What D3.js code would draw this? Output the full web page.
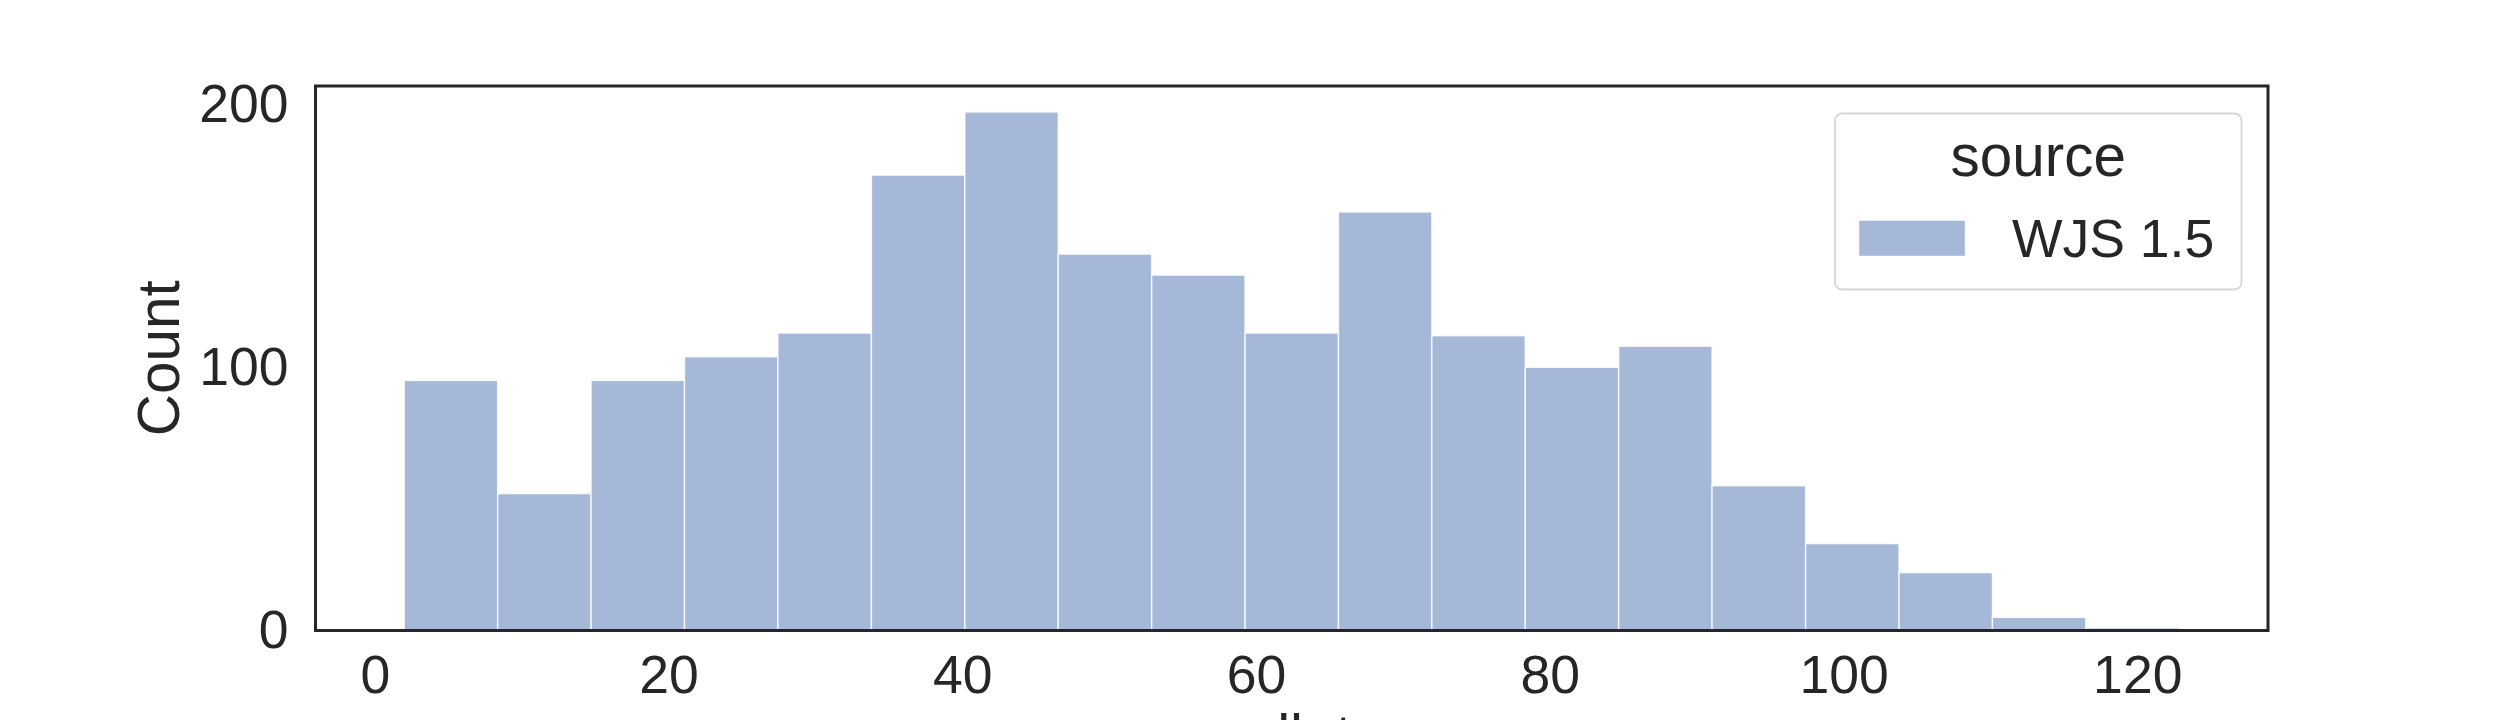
<!DOCTYPE html>
<html>
<head>
<meta charset="utf-8">
<script src="https://cdn.jsdelivr.net/npm/d3@7"></script>
<style>
	body { margin: 0; background: #fff; }
	svg { display: block; font-family: "Liberation Sans", Arial, sans-serif; }
</style>
</head>
<body>
<svg id="chart" width="2520" height="720"></svg>
<script>
// histogram bins (edges) and counts per bin
const binEdges = [2.00, 8.36, 14.72, 21.08, 27.44, 33.81, 40.17, 46.53, 52.89, 59.25,
	65.61, 71.97, 78.33, 84.69, 91.05, 97.42, 103.78, 110.14, 116.50, 122.86]
const counts = [95, 52, 95, 104, 113, 173, 197, 143, 135, 113, 159, 112, 100, 108, 55, 33, 22, 5, 1]
const xTicks = [0, 20, 40, 60, 80, 100, 120]
const yTicks = [0, 100, 200]
const legendTitle = "source"
const seriesName = "WJS 1.5"
const xLabel = "wallets"
const yLabel = "Count"

var svg = d3.select("#chart"),
	axLeft = 315.5, axRight = 2268, axTop = 86, axBottom = 630.5,
	tickFont = 53.5, labelFont = 58.4,
	ink = "#262626",
	barColor = "rgb(76,114,176)"

var bins = counts.map(function(c, i) { return {x0: binEdges[i], x1: binEdges[i + 1], n: c} })

// seaborn-like 5% margins on x, 5% headroom on y
var lo = d3.min(binEdges), hi = d3.max(binEdges), pad = (hi - lo) * 0.05
var xScale = d3.scaleLinear().domain([lo - pad, hi + pad]).range([axLeft, axRight])
var yScale = d3.scaleLinear().domain([0, d3.max(counts) * 1.05]).range([axBottom, axTop])

svg.append("g")
	.selectAll("rect")
	.data(bins)
	.enter().append("rect")
	.attr("x", function(d) { return xScale(d.x0) })
	.attr("y", function(d) { return yScale(d.n) })
	.attr("width", function(d) { return xScale(d.x1) - xScale(d.x0) })
	.attr("height", function(d) { return yScale(0) - yScale(d.n) })
	.attr("fill", barColor)
	.attr("fill-opacity", 0.5)
	.attr("stroke", "#fff")
	.attr("stroke-opacity", 0.85)
	.attr("stroke-width", 1.4)

// x axis (no tick marks, no domain line)
var gx = svg.append("g")
	.attr("transform", "translate(0," + axBottom + ")")
	.call(d3.axisBottom(xScale).tickValues(xTicks).tickSize(0).tickPadding(24.5))
gx.select(".domain").remove()
gx.selectAll("text").attr("font-size", tickFont).attr("fill", ink)
gx.attr("font-family", null).attr("font-size", null)

var gy = svg.append("g")
	.attr("transform", "translate(" + axLeft + ",0)")
	.call(d3.axisLeft(yScale).tickValues(yTicks).tickSize(0).tickPadding(27))
gy.select(".domain").remove()
gy.selectAll("text").attr("font-size", tickFont).attr("fill", ink)
gy.attr("font-family", null).attr("font-size", null)

// spines
svg.append("rect")
	.attr("x", axLeft)
	.attr("y", axTop)
	.attr("width", axRight - axLeft)
	.attr("height", axBottom - axTop)
	.attr("fill", "none")
	.attr("stroke", ink)
	.attr("stroke-width", 3)

svg.append("text")
	.attr("transform", "translate(179," + ((axTop + axBottom) / 2) + ") rotate(-90)")
	.attr("text-anchor", "middle")
	.attr("font-size", labelFont)
	.attr("fill", ink)
	.text(yLabel)

svg.append("text")
	.attr("x", (axLeft + axRight) / 2)
	.attr("y", 756)
	.attr("text-anchor", "middle")
	.attr("font-size", labelFont)
	.attr("fill", ink)
	.text(xLabel)

// legend
var lg = svg.append("g")
lg.append("rect")
	.attr("x", 1835)
	.attr("y", 113.5)
	.attr("width", 406.5)
	.attr("height", 176)
	.attr("rx", 7)
	.attr("fill", "#fff")
	.attr("fill-opacity", 0.8)
	.attr("stroke", "#d6d6d6")
	.attr("stroke-width", 1.8)

lg.append("text")
	.attr("x", 1835 + 406.5 / 2)
	.attr("y", 176)
	.attr("text-anchor", "middle")
	.attr("font-size", labelFont)
	.attr("fill", ink)
	.text(legendTitle)

lg.append("rect")
	.attr("x", 1858.5)
	.attr("y", 220)
	.attr("width", 107)
	.attr("height", 36.5)
	.attr("fill", barColor)
	.attr("fill-opacity", 0.5)
	.attr("stroke", "#fff")
	.attr("stroke-width", 1.4)

lg.append("text")
	.attr("x", 2012)
	.attr("y", 256.5)
	.attr("font-size", tickFont)
	.attr("fill", ink)
	.text(seriesName)
</script>
</body>
</html>
